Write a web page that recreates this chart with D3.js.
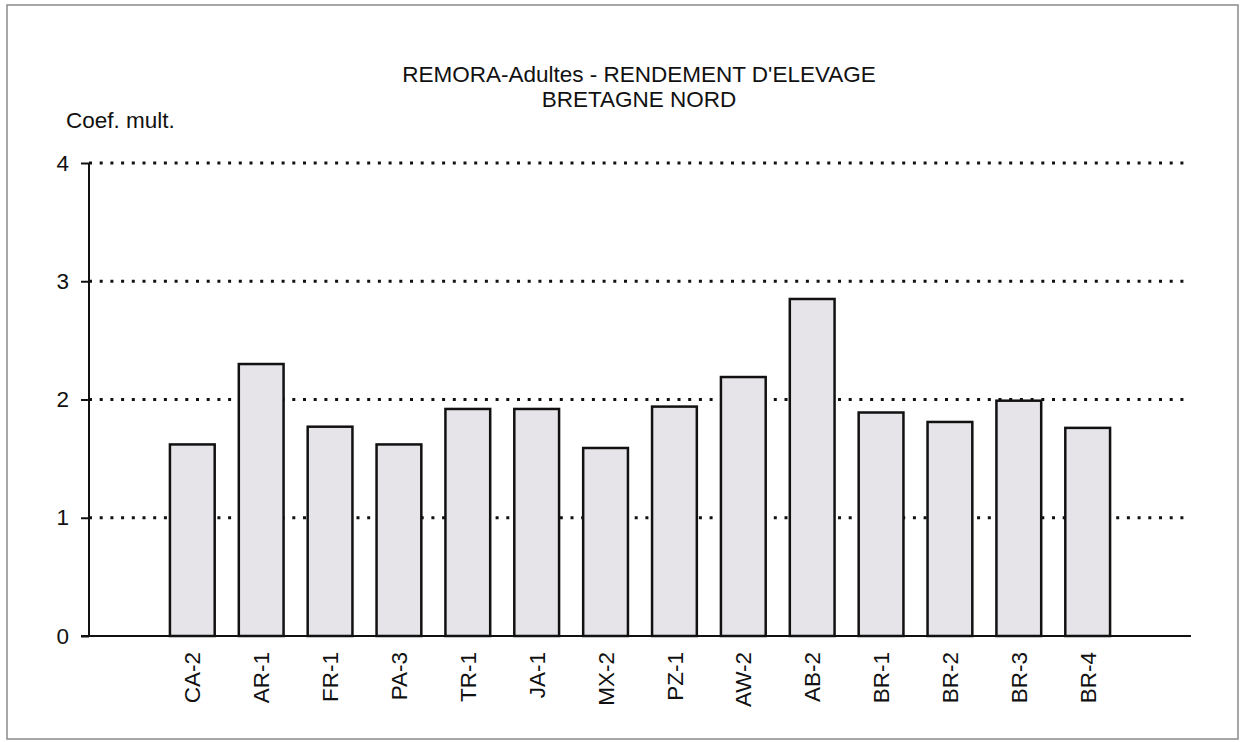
<!DOCTYPE html>
<html>
<head>
<meta charset="utf-8">
<script src="https://cdn.jsdelivr.net/npm/d3@7"></script>
<style>
  body { margin: 0; background: #fff; }
  text { font-family: "Liberation Sans", Arial, sans-serif; fill: #111; }
</style>
</head>
<body>
<div id="chart"></div>
<script>
const stations = ["CA-2", "AR-1", "FR-1", "PA-3", "TR-1", "JA-1", "MX-2", "PZ-1", "AW-2", "AB-2", "BR-1", "BR-2", "BR-3", "BR-4"];
const rendement = [1.62, 2.30, 1.77, 1.62, 1.92, 1.92, 1.59, 1.94, 2.19, 2.85, 1.89, 1.81, 1.99, 1.76];
const yTicks = [0, 1, 2, 3, 4];
const titleLines = ["REMORA-Adultes - RENDEMENT D'ELEVAGE", "BRETAGNE NORD"];
const yTitle = "Coef. mult.";

const width = 1244, height = 742;
const plotLeft = 89, plotRight = 1191, plotTop = 163, plotBottom = 636;
const fontSize = "22.5px";

const svg = d3.select("#chart").append("svg")
  .attr("width", width).attr("height", height);

// frame round the whole chart
svg.append("rect")
  .attr("x", 7).attr("y", 5).attr("width", 1231).attr("height", 734)
  .attr("fill", "none").attr("stroke", "#8a8a8a").attr("stroke-width", 1.5);

// 16 slots on the axis, the bars sit in the 14 inner ones
const step = (plotRight - plotLeft) / (stations.length + 2);
const x = d3.scaleBand()
  .domain(stations)
  .range([plotLeft + step, plotRight - step])
  .paddingInner(0.35)
  .paddingOuter(0.175);

const y = d3.scaleLinear().domain([0, 4]).range([plotBottom, plotTop]);

// dotted grid
svg.append("g")
  .selectAll("line")
  .data(yTicks.filter(d => d > 0))
  .join("line")
  .attr("x1", plotLeft).attr("x2", plotRight)
  .attr("y1", d => y(d)).attr("y2", d => y(d))
  .attr("stroke", "#111").attr("stroke-width", 2.8)
  .attr("stroke-dasharray", "3,7.7");

// bars
svg.append("g")
  .selectAll("rect")
  .data(stations)
  .join("rect")
  .attr("x", d => x(d))
  .attr("y", (d, i) => y(rendement[i]))
  .attr("width", x.bandwidth())
  .attr("height", (d, i) => y(0) - y(rendement[i]))
  .attr("fill", "#e6e4e8")
  .attr("stroke", "#111").attr("stroke-width", 2.5);

// y axis
const yAxis = svg.append("g")
  .attr("transform", `translate(${plotLeft},0)`)
  .call(d3.axisLeft(y).tickValues(yTicks).tickFormat(d3.format("d")).tickSize(8).tickPadding(12));
yAxis.select(".domain").attr("d", `M0,${plotTop}V${plotBottom}`).attr("stroke", "#111").attr("stroke-width", 2);
yAxis.selectAll(".tick line").attr("stroke", "#111").attr("stroke-width", 2);
yAxis.selectAll(".tick text").style("font-size", fontSize)
  .style("font-family", "'Liberation Sans', Arial, sans-serif").attr("fill", "#111");

// x axis baseline
svg.append("line")
  .attr("x1", plotLeft - 8).attr("x2", plotRight)
  .attr("y1", plotBottom).attr("y2", plotBottom)
  .attr("stroke", "#111").attr("stroke-width", 2);

// category labels, turned upright
svg.append("g")
  .selectAll("text")
  .data(stations)
  .join("text")
  .attr("transform", d => `translate(${x(d) + x.bandwidth() / 2},${plotBottom + 16}) rotate(-90)`)
  .attr("text-anchor", "end")
  .attr("dy", "0.36em")
  .style("font-size", fontSize)
  .text(d => d);

// titles
svg.append("g")
  .selectAll("text")
  .data(titleLines)
  .join("text")
  .attr("x", 639)
  .attr("y", (d, i) => 82 + i * 25)
  .attr("text-anchor", "middle")
  .style("font-size", fontSize)
  .text(d => d);

svg.append("text")
  .attr("x", 66).attr("y", 128)
  .style("font-size", fontSize)
  .text(yTitle);
</script>
</body>
</html>
